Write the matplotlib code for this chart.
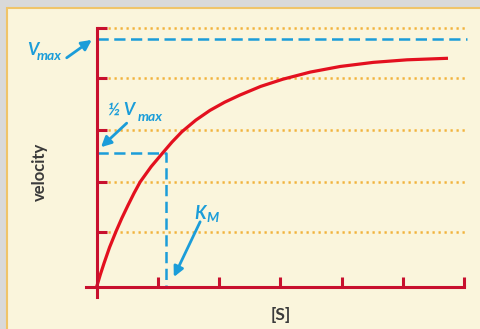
import matplotlib
matplotlib.use('Agg')
import matplotlib.pyplot as plt
from matplotlib.patches import Rectangle

# curve (x in [S] tick units, y in grid units)
s_conc = [0, 0.06, 0.12, 0.21, 0.315, 0.41, 0.51, 0.61, 0.71, 0.89, 1.08, 1.23, 1.39,
          1.62, 1.85, 2.09, 2.34, 2.68, 3.04, 3.49, 3.98, 4.52, 5.07, 5.74]
velocity = [0, 0.24, 0.46, 0.77, 1.08, 1.34, 1.59, 1.83, 2.05, 2.35, 2.62, 2.83, 3.03,
            3.26, 3.45, 3.61, 3.75, 3.92, 4.06, 4.20, 4.31, 4.39, 4.44, 4.47]

x_ticks = [1, 2, 3, 4, 5, 6]
y_ticks = [1.08, 2.05, 3.07, 4.08, 5.07]
v_max = 4.84
half_v_max = 2.62
k_m = 1.13

red = '#c8102e'
curve_red = '#e3101f'
blue = '#1b9dd9'
gold = '#f2b33d'
cream = '#faf5dc'
dark = '#3a3a3a'

W, H = 480, 329
fig = plt.figure(figsize=(W / 100, H / 100), dpi=100, facecolor='#d9d9d9')
fig.patches.append(Rectangle((7 / W, -0.05), 1.1, (H - 8) / H + 0.05,
                             transform=fig.transFigure, facecolor=cream,
                             edgecolor='#f0c468', lw=1.5, zorder=-10))

# axes placed so data origin lands at the drawn axis crossing
x0, y0, xu, yu = 96.7, 286.7, 61.2, 51.1
xlim, ylim = (-0.5, 6.3), (-0.5, 5.5)
ax = fig.add_axes([(x0 + xlim[0] * xu) / W, (H - y0 + ylim[0] * yu) / H,
                   (xlim[1] - xlim[0]) * xu / W, (ylim[1] - ylim[0]) * yu / H])
ax.set_facecolor('none')
ax.set_xlim(*xlim)
ax.set_ylim(*ylim)

for side in ['top', 'right']:
    ax.spines[side].set_visible(False)
ax.spines['left'].set_position(('data', 0))
ax.spines['bottom'].set_position(('data', 0))
ax.spines['left'].set_bounds(-0.2, y_ticks[-1])
ax.spines['bottom'].set_bounds(-0.17, x_ticks[-1])
for side in ['left', 'bottom']:
    ax.spines[side].set_color(red)
    ax.spines[side].set_linewidth(2.2)
    ax.spines[side].set_zorder(4)
ax.set_xticks(x_ticks)
ax.set_yticks(y_ticks)
ax.tick_params(direction='in', length=7, width=2.2, color=red,
               labelbottom=False, labelleft=False)

ax.hlines(y_ticks, 0.19, 6.07, colors=gold, lw=1.8, linestyles=(0, (0.9, 1.5)), zorder=1)

ax.plot([0, 6.05], [v_max, v_max], color=blue, lw=1.8, ls=(0, (4.5, 2.2)), zorder=2)
ax.plot([0, k_m, k_m], [half_v_max, half_v_max, 0], color=blue, lw=1.8,
        ls=(0, (4.5, 2.2)), zorder=2)

ax.plot(s_conc, velocity, color=curve_red, lw=2.3, solid_joinstyle='round',
        solid_capstyle='butt', zorder=3)

arrow = dict(arrowstyle='-|>,head_length=0.6,head_width=0.3', color=blue, lw=2,
             shrinkA=0, shrinkB=0)
ax.annotate('', xy=(-0.08, 4.83), xytext=(-0.49, 4.48), arrowprops=arrow)
ax.annotate('', xy=(0.07, 2.73), xytext=(0.49, 3.20), arrowprops=arrow)
ax.annotate('', xy=(1.26, 0.19), xytext=(1.69, 1.27), arrowprops=arrow)

big = dict(color=blue, fontsize=12.5, family='Lato', fontweight='bold',
           fontstyle='italic', va='baseline')
sub = dict(big, fontsize=10)
ax.text(-0.95, 4.53, 'V', ha='right', **big)
ax.text(-0.57, 4.44, 'max', ha='right', **sub)
ax.text(0.185, 3.36, '½ V', ha='left', **big)
ax.text(0.665, 3.25, 'max', ha='left', **sub)
ax.text(1.59, 1.33, 'K', ha='left', fontsize=13, **{k: v for k, v in big.items() if k != 'fontsize'})
ax.text(1.79, 1.27, 'M', ha='left', **sub)

ax.text(-0.93, 2.24, 'velocity', rotation=90, ha='center', va='center',
        color=dark, fontsize=12, family='Lato', fontweight='bold')
ax.text(3.01, -0.55, '[S]', ha='center', va='center',
        color=dark, fontsize=12.5, family='Lato', fontweight='bold')

fig.savefig('out.png', dpi=100, facecolor=fig.get_facecolor())
